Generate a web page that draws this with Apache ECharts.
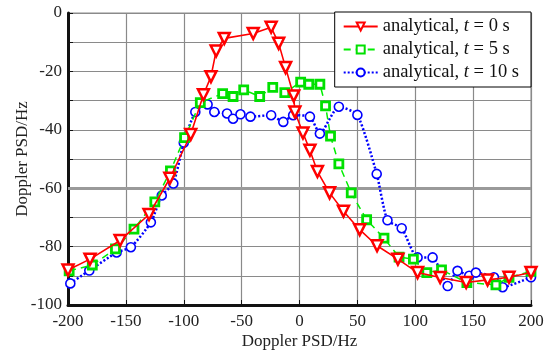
<!DOCTYPE html>
<html>
<head>
<meta charset="utf-8">
<script src="https://cdn.jsdelivr.net/npm/echarts@6/dist/echarts.min.js"></script>
<style>
  html, body { margin: 0; padding: 0; background: #fff; }
  #chart { width: 549px; height: 350px; }
</style>
</head>
<body>
<div id="chart"></div>
<script>
// values: [Hz, dB]
const t0Data = [[-200,-88],[-181,-84.3],[-155,-77.9],[-130,-69],[-112,-56.6],[-94,-41.6],[-83,-28],[-76.5,-21.8],[-72,-13],[-65,-8.7],[-40,-7],[-24.5,-4.9],[-18,-10.4],[-12,-18.7],[-5,-28.4],[-4,-33.9],[3,-41.1],[9,-47],[15.5,-54.3],[26,-61.6],[38,-67.9],[52,-74.2],[67,-79.7],[85,-84.3],[102,-88.9],[121.5,-90.6],[144,-92.3],[162.5,-91.4],[181,-90.5],[200,-88.9]];
const t5Data = [[-199,-88.3],[-179,-86.3],[-159,-80.8],[-143,-74],[-125,-64.7],[-111.5,-54.1],[-99.3,-42.7],[-85.7,-30.7],[-66.4,-27.6],[-57.4,-28.6],[-48.2,-26.3],[-34.4,-28.6],[-23.1,-25.5],[-12.7,-27.3],[1,-23.7],[8,-24.4],[17.6,-24.4],[22.5,-31.8],[26.8,-42.2],[34,-51.7],[44.7,-61.6],[58,-70.8],[73,-77.1],[86,-83.6],[98.4,-84.3],[110,-88.9],[122.7,-88],[144.6,-92.3],[169.7,-93.1],[181,-90.5],[200,-88.5]];
const t10Data = [[-198,-92.6],[-181.6,-88.2],[-158,-82],[-145.7,-80.2],[-128.4,-71.7],[-119,-62.5],[-109,-58.4],[-100,-44.4],[-90,-33.9],[-79.4,-31.3],[-73.6,-33.9],[-62.6,-34.4],[-57.4,-36.2],[-51,-34.7],[-42.4,-35.5],[-24.5,-35],[-14,-37.3],[-5.5,-35],[9,-35.5],[17.6,-41.3],[34,-32.1],[50,-34.9],[66.7,-55.1],[76,-71],[88.3,-73.7],[102,-83.7],[115,-83.7],[128,-93.5],[136.5,-88.3],[146.6,-90],[152.4,-88.9],[168,-90.5],[175.5,-93.9],[200,-90.5]];
const seriesNames = ["analytical, t = 0 s", "analytical, t = 5 s", "analytical, t = 10 s"];

const font = "'Liberation Serif', 'DejaVu Serif', serif";
const chart = echarts.init(document.getElementById("chart"));

const options = {
    animation: false,
    textStyle: { fontFamily: font },
    grid: {
        left: 68, right: 18, top: 13, bottom: 45,
        outerBoundsMode: "none",
        containLabel: false,
        show: true, borderColor: "#8a8a8a", borderWidth: 1,
    },
    legend: {
        data: seriesNames,
        orient: "vertical",
        right: 18, top: 12,
        backgroundColor: "#fff",
        borderColor: "#000",
        borderWidth: 1,
        borderRadius: 0,
        padding: [5, 12, 5, 8],
        itemWidth: 34, itemHeight: 10, itemGap: 4,
        textStyle: {
            fontFamily: font, fontSize: 18.5, color: "#111",
            rich: { i: { fontFamily: font, fontSize: 18.5, fontStyle: "italic", color: "#111" } },
        },
        formatter: (name) => name.replace(", t =", ", {i|t} ="),
    },
    xAxis: {
        type: "value",
        min: -200, max: 200, interval: 50,
        name: "Doppler PSD/Hz",
        nameLocation: "middle",
        nameGap: 28,
        nameMoveOverlap: false,
        nameTextStyle: { fontFamily: font, fontSize: 17, color: "#222" },
        axisLine: { onZero: false, lineStyle: { color: "#111", width: 3 } },
        axisTick: { inside: true, length: 5, lineStyle: { color: "#111" } },
        axisLabel: { fontFamily: font, fontSize: 17, color: "#222", margin: 8 },
        splitLine: { lineStyle: { color: "#8a8a8a", width: 1.2 } },
    },
    yAxis: {
        type: "value",
        min: -100, max: 0, interval: 10,
        name: "Doppler PSD/Hz",
        nameLocation: "middle",
        nameGap: 37,
        nameMoveOverlap: false,
        nameTextStyle: { fontFamily: font, fontSize: 17, color: "#222" },
        axisLine: { onZero: false, lineStyle: { color: "#111", width: 3 } },
        axisTick: { inside: true, length: 5, lineStyle: { color: "#111" } },
        axisLabel: {
            fontFamily: font, fontSize: 17, color: "#222", margin: 6,
            formatter: (v) => (v % 20 === 0 ? v : ""),
        },
        splitLine: { lineStyle: { color: "#8a8a8a", width: 1.2 } },
    },
    series: [
        {
            name: seriesNames[0],
            type: "line",
            data: t0Data,
            symbol: "triangle",
            symbolRotate: 180,
            symbolSize: 11,
            z: 4,
            lineStyle: { color: "#ff0000", width: 1.6 },
            itemStyle: { color: "#fff", borderColor: "#ff0000", borderWidth: 2.5 },
            markLine: {
                silent: true,
                symbol: "none",
                label: { show: false },
                lineStyle: { color: "#9a9a9a", width: 3, type: "solid" },
                data: [{ yAxis: -60 }],
                z: 1,
            },
        },
        {
            name: seriesNames[1],
            type: "line",
            data: t5Data,
            symbol: "rect",
            symbolSize: 8,
            z: 3,
            lineStyle: { color: "#00ee00", width: 1.5, type: [7, 5] },
            itemStyle: { color: "#fff", borderColor: "#00e000", borderWidth: 2.8 },
        },
        {
            name: seriesNames[2],
            type: "line",
            data: t10Data,
            symbol: "circle",
            symbolSize: 9,
            smooth: 0.2,
            z: 2,
            lineStyle: { color: "#0000ff", width: 2.5, type: [2, 2] },
            itemStyle: { color: "#fff", borderColor: "#0000ff", borderWidth: 1.6 },
        },
    ],
};

chart.setOption(options);
</script>
</body>
</html>
